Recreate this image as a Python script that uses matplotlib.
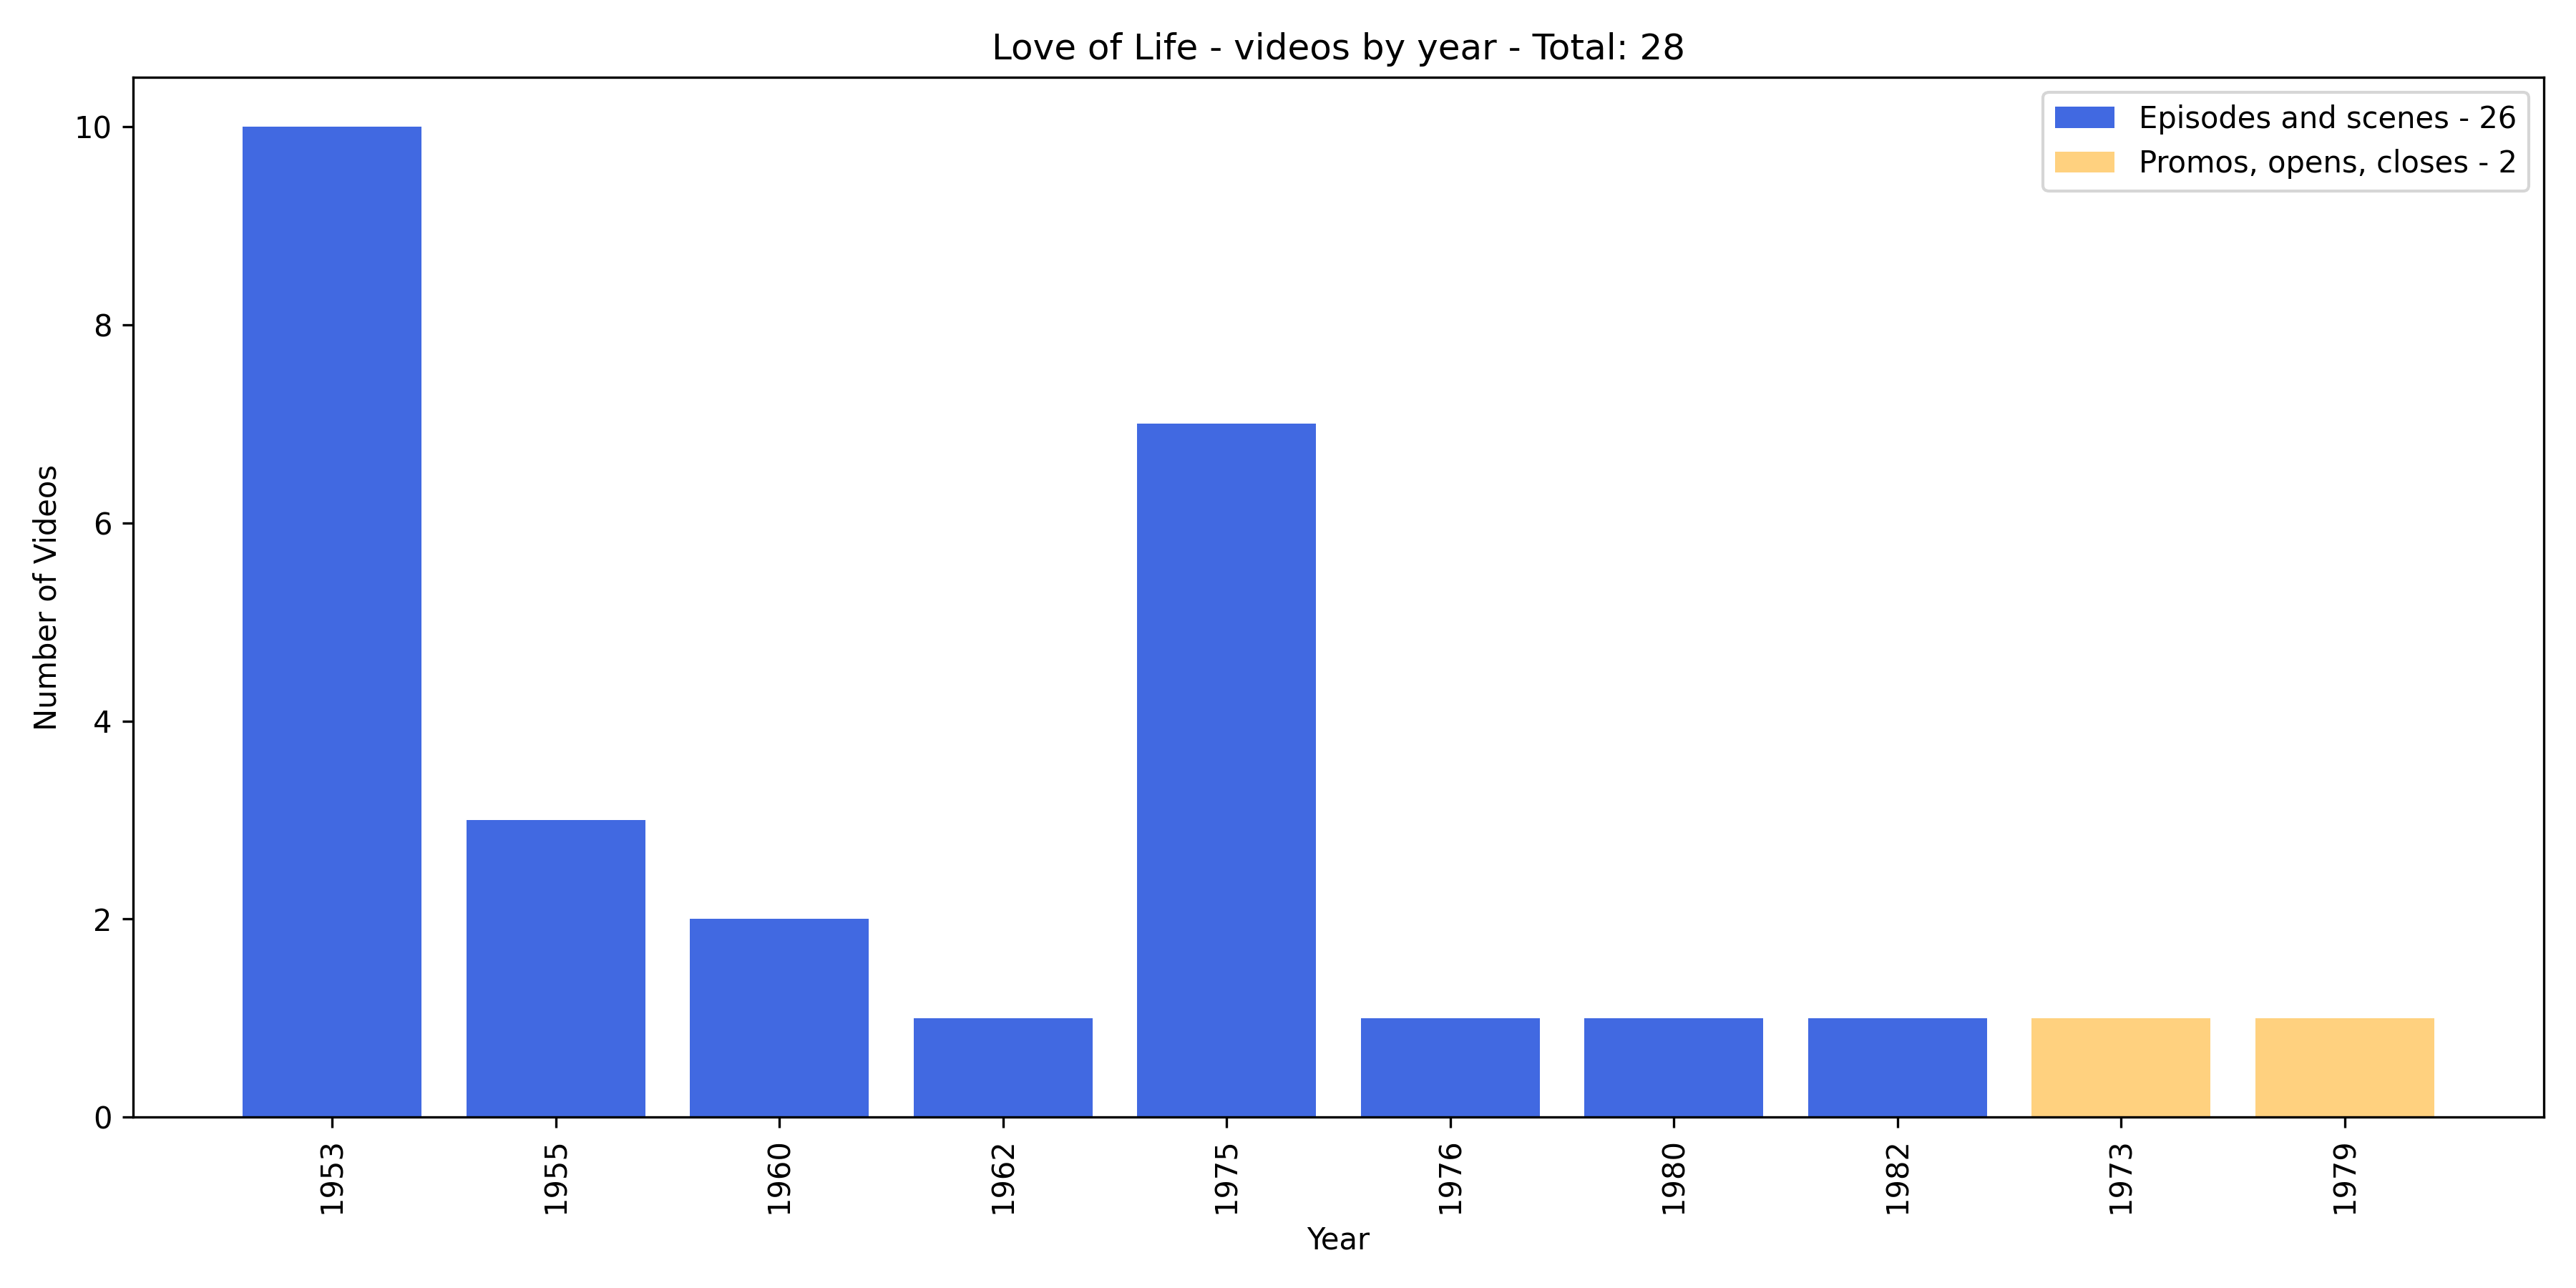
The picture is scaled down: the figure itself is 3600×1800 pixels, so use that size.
import matplotlib
matplotlib.use("Agg")
import matplotlib.pyplot as plt

ep_years = ["1953", "1955", "1960", "1962", "1975", "1976", "1980", "1982"]
ep_counts = [10, 3, 2, 1, 7, 1, 1, 1]
promo_years = ["1973", "1979"]
promo_counts = [1, 1]

fig, ax = plt.subplots(figsize=(12, 6), dpi=300)
ax.bar(ep_years, ep_counts, color="royalblue", label=f"Episodes and scenes - {sum(ep_counts)}")
ax.bar(promo_years, promo_counts, color="orange", alpha=0.5, label=f"Promos, opens, closes - {sum(promo_counts)}")
ax.set_title(f"Love of Life - videos by year - Total: {sum(ep_counts) + sum(promo_counts)}")
ax.set_xlabel("Year")
ax.set_ylabel("Number of Videos")
plt.xticks(rotation=90)
ax.legend(loc="upper right")
fig.tight_layout()
fig.savefig("out.png")
